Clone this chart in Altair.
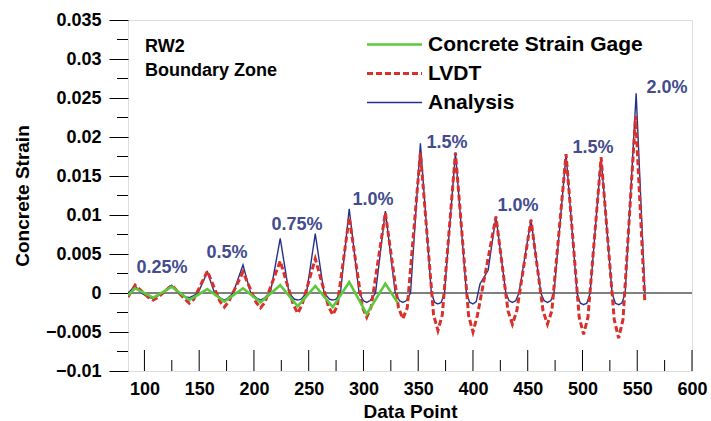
import altair as alt
import pandas as pd

# ---------------- data ----------------
series_names = ["Concrete Strain Gage", "LVDT", "Analysis"]
series_colors = ["#5cc83c", "#d8302a", "#24318a"]
series_widths = [2.6, 3.0, 1.4]

analysis_x = [85, 91.5, 97, 105, 108, 111, 116, 125, 131, 138, 141, 144, 149, 157.5, 164, 170, 173, 176, 181,
              190, 197, 203, 206, 209, 215, 224, 232, 237, 240, 243, 248, 256, 264, 269, 272, 275, 279,
              287, 296, 300, 303, 306, 311, 320, 329, 333, 336, 339, 343, 352, 362, 365, 368, 371, 374,
              384, 394, 397, 400, 403, 406.5, 410, 413.8, 421, 430, 433, 436, 439, 442, 453, 462, 465, 468,
              471, 474, 485, 495, 498, 501, 504, 507, 517, 527, 530, 533, 536, 539, 549, 557]
analysis_y = [0.0, 0.0009, 0.0, -0.0006, -0.0007, -0.0005, 0.0, 0.0010, 0.0, -0.0005, -0.0006, -0.0004, 0.0,
              0.0027, 0.0, -0.0007, -0.0009, -0.0007, 0.0,
              0.0036, 0.0, -0.0007, -0.0009, -0.0007, 0.0, 0.0070, 0.0, -0.0008, -0.0009, -0.0008, 0.0,
              0.0076, 0.0, -0.0008, -0.0009, -0.0008, 0.0,
              0.0108, 0.0, -0.0010, -0.0012, -0.0010, 0.0, 0.0105, 0.0, -0.0010, -0.0012, -0.0010, 0.0,
              0.0192, 0.0, -0.0012, -0.0014, -0.0012, 0.0,
              0.0180, 0.0, -0.0012, -0.0014, -0.0011, 0.0012, 0.0020, 0.0029, 0.0098, 0.0, -0.0010, -0.0012,
              -0.0010, 0.0, 0.0094, 0.0, -0.0010, -0.0012,
              -0.0010, 0.0, 0.0178, 0.0, -0.0013, -0.0015, -0.0013, 0.0, 0.0174, 0.0, -0.0013, -0.0015,
              -0.0013, 0.0, 0.0256, 0.0]

lvdt_x = [85, 91.5, 104, 108, 112, 125, 137, 141, 145, 157.5, 169, 173, 177, 190, 202, 206, 210,
          224, 236, 240, 244, 256, 268, 272, 276, 287, 299, 303, 307, 320, 332, 336, 340,
          352, 364, 368, 372, 384, 396, 400, 404, 421, 432, 436, 440, 453, 464, 468, 472,
          485, 497, 501, 505, 517, 529, 533, 537, 548.5, 557]
lvdt_y = [-0.0005, 0.0010, -0.0006, -0.0009, -0.0006, 0.0010, -0.0008, -0.0013, -0.0008, 0.0028,
          -0.0011, -0.0018, -0.0011, 0.0027, -0.0012, -0.0019, -0.0012,
          0.0041, -0.0015, -0.0026, -0.0015, 0.0044, -0.0017, -0.0028, -0.0017, 0.0097, -0.0018,
          -0.0031, -0.0018, 0.0103, -0.0019, -0.0033, -0.0019,
          0.0180, -0.0028, -0.0048, -0.0028, 0.0180, -0.0029, -0.0050, -0.0029, 0.0098, -0.0023,
          -0.0040, -0.0023, 0.0094, -0.0023, -0.0040, -0.0023,
          0.0178, -0.0031, -0.0053, -0.0031, 0.0174, -0.0034, -0.0058, -0.0034, 0.0227, -0.0013]

gage_x = [85, 91.5, 108, 125, 141, 157.5, 173, 190, 206, 224, 240, 256, 272, 287, 303, 320, 331]
gage_y = [-0.0003, 0.0006, -0.0006, 0.0008, -0.0009, 0.0005, -0.0011, 0.0006, -0.0012, 0.0010,
          -0.0017, 0.0009, -0.0018, 0.0014, -0.0027, 0.0012, -0.0012]

pct_labels = ["0.25%", "0.5%", "0.75%", "1.0%", "1.5%", "1.0%", "1.5%", "2.0%"]
pct_x = [116, 175.4, 239.3, 308.7, 376.3, 441.2, 509.7, 577.2]
pct_y = [0.00324, 0.00517, 0.00876, 0.01196, 0.01927, 0.0112, 0.01863, 0.02632]

note_lines = ["RW2", "Boundary Zone"]
note_x = [100.5, 100.5]
note_y = [0.0316, 0.0284]

x_major = [100, 150, 200, 250, 300, 350, 400, 450, 500, 550, 600]
x_minor = [125, 175, 225, 275, 325, 375, 425, 475, 525, 575]
y_major = [-0.01, -0.005, 0.0, 0.005, 0.01, 0.015, 0.02, 0.025, 0.03, 0.035]
y_minor = [-0.0075, -0.0025, 0.0025, 0.0075, 0.0125, 0.0175, 0.0225, 0.0275, 0.0325]

W, H = 564, 351
FONT = "Liberation Sans"

xscale = alt.Scale(domain=[85, 600], nice=False, zero=False)
yscale = alt.Scale(domain=[-0.01, 0.035], nice=False, zero=False)

xaxis = alt.Axis(values=x_major, ticks=False, tickSize=0, grid=False, domain=False,
                 labelFont=FONT, labelFontSize=18, labelFontWeight="bold", labelColor="black",
                 labelPadding=9, labelFlush=False,
                 title="Data Point", titleFont=FONT, titleFontSize=19, titleFontWeight="bold",
                 titleColor="black", titleY=40, titleBaseline="middle")
yaxis = alt.Axis(values=y_major, format="~g", ticks=True, tickSize=19, tickColor="black",
                 grid=False, domain=False,
                 labelFont=FONT, labelFontSize=18, labelFontWeight="bold", labelColor="black",
                 labelPadding=8, labelFlush=False,
                 title="Concrete Strain", titleFont=FONT, titleFontSize=19, titleFontWeight="bold",
                 titleColor="black", titleAngle=270, titleX=-106, titleY=175.5,
                 titleBaseline="middle", titleAlign="center")

X = alt.X("x:Q", scale=xscale, axis=xaxis)
Y = alt.Y("y:Q", scale=yscale, axis=yaxis)

width_expr = "datum.value === 'Analysis' ? 1.4 : (datum.value === 'LVDT' ? 2.8 : 2.6)"
legend_kw = dict(title=None, orient="none", legendX=256, legendY=14,
                 symbolType="M-5.5,0H5.5", symbolSize=100,
                 symbolStrokeWidth=alt.ExprRef(expr=width_expr),
                 labelFont=FONT, labelFontSize=21, labelFontWeight="bold",
                 labelColor="black", labelOffset=23, labelLimit=0, rowPadding=7, padding=0)

color_enc = alt.Color("series:N", sort=series_names,
                      scale=alt.Scale(domain=series_names, range=series_colors),
                      legend=alt.Legend(**legend_kw))
dash_enc = alt.StrokeDash("series:N", sort=series_names,
                          scale=alt.Scale(domain=series_names, range=[[1, 0], [6, 3], [1, 0]]),
                          legend=alt.Legend(**legend_kw))

zero = alt.Chart(pd.DataFrame({"y": [0.0]})).mark_rule(color="black", strokeWidth=1).encode(y=Y)


def series_layer(name, xs, ys):
    d = pd.DataFrame({"x": xs, "y": ys, "series": name, "i": list(range(len(xs)))})
    w = series_widths[series_names.index(name)]
    return alt.Chart(d).mark_line(clip=True, strokeWidth=w).encode(
        x=X, y=Y, color=color_enc, strokeDash=dash_enc, order="i:Q")


blue = series_layer("Analysis", analysis_x, analysis_y)
red = series_layer("LVDT", lvdt_x, lvdt_y)
green = series_layer("Concrete Strain Gage", gage_x, gage_y)

xt_major = alt.Chart(pd.DataFrame({"x": x_major})).mark_rule(color="black", strokeWidth=1).encode(
    x=X, y=alt.value(H), y2=alt.value(H - 21))
xt_minor = alt.Chart(pd.DataFrame({"x": x_minor})).mark_rule(color="black", strokeWidth=1).encode(
    x=X, y=alt.value(H), y2=alt.value(H - 11))
yt_minor = alt.Chart(pd.DataFrame({"y": y_minor})).mark_rule(color="black", strokeWidth=1).encode(
    y=Y, x=alt.value(-11), x2=alt.value(0))

pct = alt.Chart(pd.DataFrame({"x": pct_x, "y": pct_y, "t": pct_labels})).mark_text(
    font=FONT, fontSize=18, fontWeight="bold", color="#434c8e", align="center", baseline="middle"
).encode(x=X, y=Y, text="t:N")

note = alt.Chart(pd.DataFrame({"x": note_x, "y": note_y, "t": note_lines})).mark_text(
    font=FONT, fontSize=18, fontWeight="bold", color="black", align="left", baseline="middle"
).encode(x=X, y=Y, text="t:N")

chart = alt.layer(zero, blue, red, green, xt_major, xt_minor, yt_minor, pct, note).properties(
    width=W, height=H,
    autosize=alt.AutoSizeParams(type="none"),
    padding={"left": 128, "top": 20, "right": 19, "bottom": 50},
).configure_view(stroke="black", strokeWidth=1.2).configure(background="white")

chart.save("out.html", embed_options={"renderer": "svg", "actions": False})
